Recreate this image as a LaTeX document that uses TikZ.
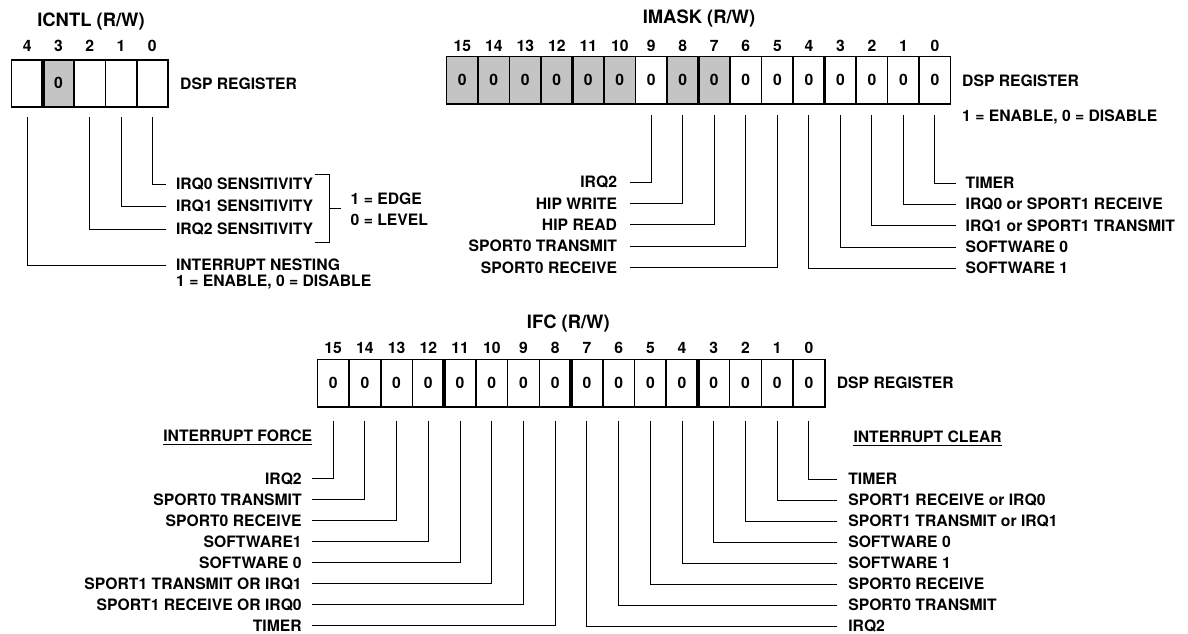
\documentclass[tikz,border=0pt]{standalone}
\usepackage{fontspec}
\setmainfont{TeX Gyre Heros}
\definecolor{regfill}{RGB}{196,196,196}
\newcommand\labfnt{\fontsize{15.7}{18}\selectfont\bfseries}
\newcommand\titfnt{\fontsize{18.4}{22}\selectfont\bfseries}
\tikzset{
  txt/.style={font=\labfnt, inner sep=0pt, text height=11.2pt, text depth=0pt},
  ttl/.style={font=\titfnt, inner sep=0pt, text height=13.2pt, text depth=0pt},
  cellbox/.style={draw, line width=1.6pt, inner sep=0pt, outer sep=0pt, font=\labfnt, text height=11.2pt, text depth=0pt},
  divider/.style={line width=3.6pt},
  leader/.style={line width=1pt},
  lblL/.style={txt, anchor=east, outer xsep=#1},
  lblR/.style={txt, anchor=west, outer xsep=#1},
  uline/.style={line width=1.2pt},
}
\begin{document}
\begin{tikzpicture}[x=1pt,y=-1pt]
\useasboundingbox (0,0) rectangle (1188,634);

% ================= ICNTL =================
\node[ttl] (icntlT) at (91,20) {ICNTL (R/W)};
\foreach \b/\f/\v in {4/white/{},3/regfill/0,2/white/{},1/white/{},0/white/{}}{
  \node[cellbox, fill=\f, minimum width=31.3pt, minimum height=46.7pt] (icntl\b) at ({11.5+(4-\b+0.5)*31.3},83.35) {\v};
  \node[txt] (icntln\b) at ({11.5+(4-\b+0.5)*31.3},46) {\b};
}
\draw[divider] (icntl3.north west) -- (icntl3.south west);
\node[txt, anchor=west] (icntlD) at (180,84) {DSP REGISTER};

\node[lblR=10pt] (s0) at (166,184) {IRQ0 SENSITIVITY};
\node[lblR=10pt] (s1) at (166,206) {IRQ1 SENSITIVITY};
\node[lblR=10pt] (s2) at (166,229) {IRQ2 SENSITIVITY};
\node[lblR=10pt] (nest) at (166,265) {INTERRUPT NESTING};
\node[txt, anchor=west] (nestn) at (176,281) {1 = ENABLE, 0 = DISABLE};
\draw[leader, shorten <=10.3pt] (icntl0.south) |- (s0.west);
\draw[leader, shorten <=10.3pt] (icntl1.south) |- (s1.west);
\draw[leader, shorten <=10.3pt] (icntl2.south) |- (s2.west);
\draw[leader, shorten <=10.3pt] (icntl4.south) |- (nest.west);

\coordinate (brT) at (315,174);
\coordinate (brB) at (315,242.7);
\coordinate (brM) at (329.3,208.5);
\draw[leader] (brT) -- (329.3,174) -- (329.3,242.7) -- (brB);
\node[txt, anchor=west] (edge) at (350.5,198.5) {1 = EDGE};
\node[txt, anchor=west] (level) at (350.5,219.5) {0 = LEVEL};
\draw[leader] (brM) -- (341,208.5);

% ================= IMASK =================
\node[ttl] (imaskT) at (699,17) {IMASK (R/W)};
\foreach \b/\f in {15/regfill,14/regfill,13/regfill,12/regfill,11/regfill,10/regfill,9/white,8/regfill,7/regfill,6/white,5/white,4/white,3/white,2/white,1/white,0/white}{
  \node[cellbox, fill=\f, minimum width=31.51pt, minimum height=47.3pt] (imask\b) at ({446.5+(15-\b+0.5)*31.51},80.35) {0};
  \node[txt] (imaskn\b) at ({446.5+(15-\b+0.5)*31.51},46) {\b};
}
\foreach \b in {11,7,3}{
  \draw[divider] (imask\b.north west) -- (imask\b.south west);
}
\node[txt, anchor=west] (imaskD) at (962,81) {DSP REGISTER};
\node[txt, anchor=west] (imaskE) at (962,116) {1 = ENABLE, 0 = DISABLE};

\foreach \b/\t/\y in {9/IRQ2/182,8/HIP WRITE/203.5,7/HIP READ/224.5,6/SPORT0 TRANSMIT/246,5/SPORT0 RECEIVE/267.5}{
  \node[lblL=13pt] (mL\b) at (630,\y) {\t};
  \draw[leader, shorten <=11pt] (imask\b.south) |- (mL\b.east);
}
\foreach \b/\t/\y in {0/TIMER/183,1/IRQ0 or SPORT1 RECEIVE/204,2/IRQ1 or SPORT1 TRANSMIT/225.5,3/SOFTWARE 0/247,4/SOFTWARE 1/268}{
  \node[lblR=9.7pt] (mR\b) at (956,\y) {\t};
  \draw[leader, shorten <=11pt] (imask\b.south) |- (mR\b.west);
}

% ================= IFC =================
\node[ttl] (ifcT) at (568.3,321.5) {IFC (R/W)};
\foreach \b in {15,14,...,0}{
  \node[cellbox, fill=white, minimum width=31.72pt, minimum height=47.5pt] (ifc\b) at ({317.3+(15-\b+0.5)*31.72},383.25) {0};
  \node[txt] (ifcn\b) at ({317.3+(15-\b+0.5)*31.72},348) {\b};
}
\foreach \b in {11,7,3}{
  \draw[divider] (ifc\b.north west) -- (ifc\b.south west);
}
\node[txt, anchor=west] (ifcD) at (836.7,382.7) {DSP REGISTER};

\node[txt, anchor=east] (force) at (312.3,436) {INTERRUPT FORCE};
\draw[uline] ([yshift=-2.8pt]force.south west) -- ([yshift=-2.8pt]force.south east);
\node[txt, anchor=west] (clear) at (853.3,436.5) {INTERRUPT CLEAR};
\draw[uline] ([yshift=-2.8pt]clear.south west) -- ([yshift=-2.8pt]clear.south east);

\foreach \b/\t/\k in {15/IRQ2/0,14/SPORT0 TRANSMIT/1,13/SPORT0 RECEIVE/2,12/SOFTWARE1/3,11/SOFTWARE 0/4,10/SPORT1 TRANSMIT OR IRQ1/5,9/SPORT1 RECEIVE OR IRQ0/6,8/TIMER/7}{
  \node[lblL=10.6pt] (fL\b) at (312.3,{478.5+21.05*\k}) {\t};
  \draw[leader, shorten <=13.5pt] (ifc\b.south) |- (fL\b.east);
}
\foreach \b/\t/\k in {0/TIMER/0,1/SPORT1 RECEIVE or IRQ0/1,2/SPORT1 TRANSMIT or IRQ1/2,3/SOFTWARE 0/3,4/SOFTWARE 1/4,5/SPORT0 RECEIVE/5,6/SPORT0 TRANSMIT/6,7/IRQ2/7}{
  \node[lblR=11pt] (fR\b) at (837.3,{479+21.05*\k}) {\t};
  \draw[leader, shorten <=13.5pt] (ifc\b.south) |- (fR\b.west);
}
\end{tikzpicture}
\end{document}
